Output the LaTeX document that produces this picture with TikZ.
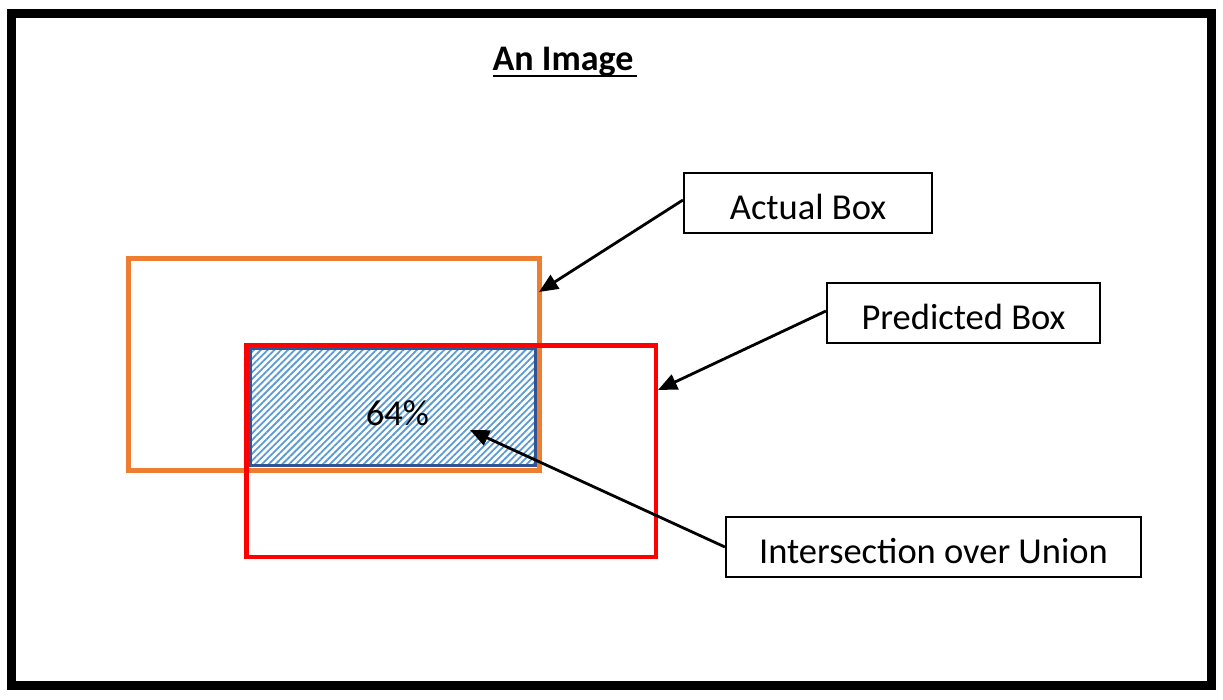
\documentclass[tikz,border=0pt]{standalone}
\usepackage{fontspec}
\setmainfont{Carlito}
\usetikzlibrary{arrows.meta,patterns.meta}
\definecolor{actualc}{HTML}{ED7D31}
\definecolor{predc}{HTML}{FF0000}
\definecolor{iouborder}{HTML}{2F5597}
\definecolor{hatchc}{HTML}{5B9BD5}
\begin{document}
\begin{tikzpicture}[x=1pt,y=-1pt,
  every node/.style={font=\fontsize{36.5}{43}\selectfont},
  labelbox/.style={draw=black,line width=1.6pt,minimum height=60.5pt,
    text height=32pt,text depth=0pt,inner sep=2pt},
  pointer/.style={draw=black,line width=2.8pt,-{Triangle[length=19pt,width=16pt]}}]
\useasboundingbox (0,0) rectangle (1223,699);
\fill[white] (0,0) rectangle (1223,699);
% outer frame
\draw[line width=9pt] (11.5,13.5) rectangle (1211.5,685.5);
% title
\node[anchor=base,font=\fontsize{36}{43}\selectfont\bfseries] (title) at (563,70) {An Image};
\draw[line width=2.6pt] ([yshift=-6pt]title.base west) ++(4,0) -- ([yshift=-6pt]title.base east) -- ++(-4,0);
% boxes
\draw[actualc,line width=5pt] (128.5,258.5) rectangle (539,470.5);
\draw[predc,line width=4.6pt] (246.5,345.5) rectangle (656,557);
\fill[white] (250,348.5) rectangle (535.5,465.5);
\fill[pattern={Lines[angle=45,distance=4.8pt,line width=1.8pt]},pattern color=hatchc] (250,348.5) rectangle (535.5,465.5);
\draw[iouborder,line width=3pt] (250,348.5) rectangle (535.5,465.5);
\node[anchor=base] (pct) at (397.5,425) {64\%};
% labels
\node[labelbox,minimum width=248.5pt] (actual) at (808,203) {Actual Box};
\node[labelbox,minimum width=273.5pt] (pred) at (963.5,313) {Predicted Box};
\node[labelbox,minimum width=415.5pt] (iou) at (933.5,547) {Intersection over Union};
% arrow tips
\coordinate (tipA) at (539,292);
\coordinate (tipP) at (658,390);
\coordinate (tipI) at (470,430);
\draw[pointer] ([yshift=3pt]actual.west) -- (tipA);
\draw[pointer] ([yshift=2pt]pred.west) -- (tipP);
\draw[pointer] (iou.west) -- (tipI);
\end{tikzpicture}
\end{document}
